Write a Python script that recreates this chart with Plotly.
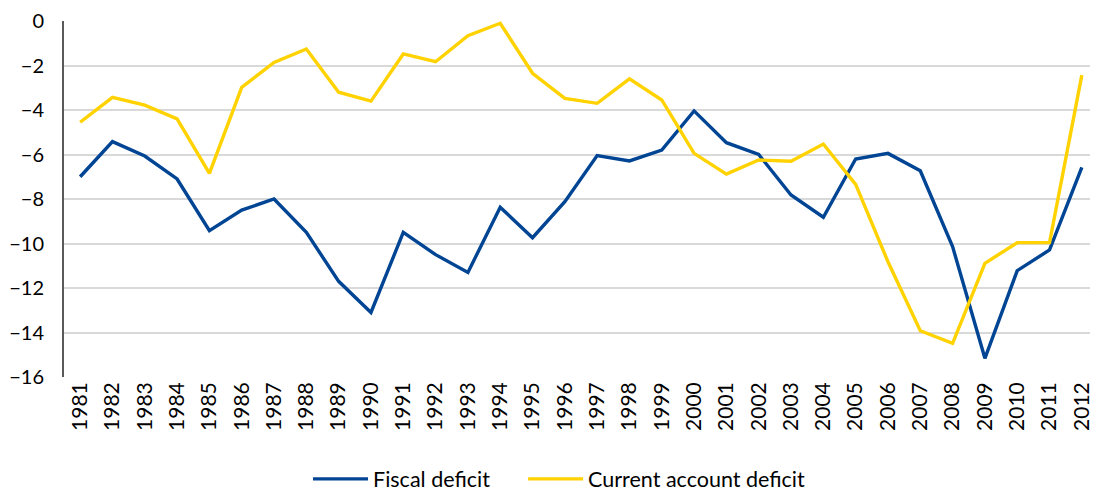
import plotly.graph_objects as go

years = [str(y) for y in range(1981, 2013)]
fiscal_deficit = [-7.0, -5.42, -6.07, -7.1, -9.42, -8.5, -8.0, -9.5, -11.7, -13.1,
                  -9.5, -10.5, -11.3, -8.37, -9.74, -8.12, -6.05, -6.29, -5.8, -4.04,
                  -5.47, -6.0, -7.82, -8.82, -6.2, -5.95, -6.73, -10.14, -15.16, -11.22,
                  -10.29, -6.58]
current_account_deficit = [-4.55, -3.43, -3.78, -4.4, -6.85, -2.98, -1.86, -1.26, -3.2, -3.6,
                           -1.48, -1.83, -0.66, -0.1, -2.35, -3.48, -3.7, -2.6, -3.55, -5.95,
                           -6.88, -6.25, -6.3, -5.53, -7.34, -10.82, -13.92, -14.49, -10.89, -9.96,
                           -9.96, -2.43]

FONT = "Lato, 'Open Sans', sans-serif"

fig = go.Figure()
fig.add_trace(go.Scatter(x=years, y=fiscal_deficit, mode="lines", name="Fiscal deficit",
                         line=dict(color="#004494", width=3.4), legend="legend"))
fig.add_trace(go.Scatter(x=years, y=current_account_deficit, mode="lines",
                         name="Current account deficit",
                         line=dict(color="#FFD200", width=3.4), legend="legend2"))

legend_common = dict(orientation="h", xanchor="left", yref="container", y=0.027,
                     yanchor="middle",
                     font=dict(family=FONT, size=21.5, color="#000000"),
                     itemwidth=55, bgcolor="rgba(0,0,0,0)")

fig.update_layout(
    width=1090, height=484,
    margin=dict(l=56, r=0, t=13, b=115),
    paper_bgcolor="white", plot_bgcolor="white",
    font=dict(family=FONT, size=20, color="#000000"),
    showlegend=True,
    legend=dict(x=0.236, **legend_common),
    legend2=dict(x=0.444, **legend_common),
    xaxis=dict(type="category", range=[-0.5, 31.5], tickangle=-90,
               showgrid=False, showline=False, ticks="", zeroline=False,
               tickfont=dict(family=FONT, size=21, color="#000000")),
    yaxis=dict(range=[-16, 0], dtick=2, tick0=0, showgrid=True, gridcolor="#d9d9d9",
               gridwidth=1.5, zeroline=False, showline=True, linecolor="#595959",
               linewidth=2, ticks="", ticklabelstandoff=14,
               tickfont=dict(family=FONT, size=20, color="#000000")),
)

fig.write_html("out.html")
